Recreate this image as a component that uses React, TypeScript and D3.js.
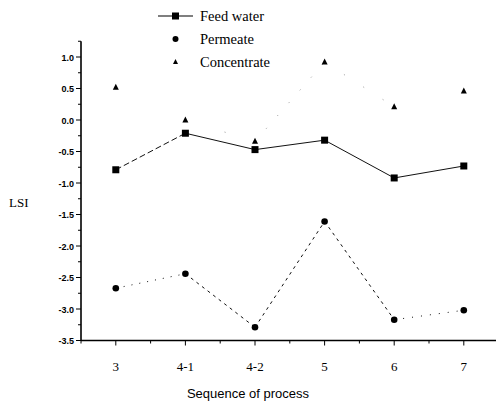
import React from "react";
import * as d3 from "d3";

const categories = ["3", "4-1", "4-2", "5", "6", "7"];
const feedWater = [-0.79, -0.21, -0.47, -0.32, -0.92, -0.73];
const permeate = [-2.67, -2.44, -3.29, -1.61, -3.17, -3.02];
const concentrate = [0.52, 0.0, -0.34, 0.92, 0.21, 0.46];
const yTicks = [1.0, 0.5, 0.0, -0.5, -1.0, -1.5, -2.0, -2.5, -3.0, -3.5];

const W = 496, H = 403;
const axisX = 81, axisY = 340.5;
const SERIF = "'Liberation Serif', 'Times New Roman', serif";
const SANS = "'Liberation Sans', Arial, sans-serif";

export default function App() {
  const step = 69.6;
  const x = d3.scalePoint<string>().domain(categories).range([axisX + step / 2, axisX + step * 5.5]);
  const y = d3.scaleLinear().domain([-3.5, 1.0]).range([axisY, 57]);
  const yTop = y(1.25);
  const line = d3.line<[number, number]>().x((d) => d[0]).y((d) => d[1]);
  const seg = (vals: number[], i: number) =>
    line([
      [x(categories[i])!, y(vals[i])],
      [x(categories[i + 1])!, y(vals[i + 1])],
    ]) || "";
  const segIdx = [0, 1, 2, 3, 4];
  const feedDash = ["6,3", "", "", "", ""];
  const permDash = ["1,7", "3,4", "3,4", "3,4", "1,8"];
  const concDash = ["0,100", "1,40", "1,16", "1,22", "0,100"];
  const minorY = d3.range(-3.5, 1.26, 0.25).filter((v) => Math.abs(v * 2 - Math.round(v * 2)) > 0.01);
  const minorX = d3.range(0, 7).map((i) => axisX + i * step).filter((v) => v < W);
  const tri = (cx: number, cy: number, s: number) =>
    `M${cx},${cy - s * 0.6}L${cx + s / 2},${cy + s * 0.4}L${cx - s / 2},${cy + s * 0.4}Z`;
  return (
    <svg width={W} height={H} style={{ position: "absolute", left: 0, top: 0, background: "#fff" }}>
      <line x1={axisX} x2={axisX} y1={yTop} y2={axisY} stroke="#000" strokeWidth={1.6} />
      <line x1={axisX} x2={W} y1={axisY} y2={axisY} stroke="#000" strokeWidth={1.6} />
      {yTicks.map((t) => (
        <g key={t}>
          <line x1={axisX - 5} x2={axisX} y1={y(t)} y2={y(t)} stroke="#000" strokeWidth={1} />
          <text x={axisX - 7} y={y(t) + 3.5} textAnchor="end" fontFamily={SANS} fontSize={9} fontWeight="bold">
            {t.toFixed(1)}
          </text>
        </g>
      ))}
      {minorY.map((t) => (
        <line key={t} x1={axisX - 3} x2={axisX} y1={y(t)} y2={y(t)} stroke="#000" strokeWidth={1} />
      ))}
      {minorX.map((v) => (
        <line key={v} x1={v} x2={v} y1={axisY} y2={axisY + 3} stroke="#000" strokeWidth={1} />
      ))}
      {categories.map((c) => (
        <g key={c}>
          <line x1={x(c)!} x2={x(c)!} y1={axisY} y2={axisY + 5} stroke="#000" strokeWidth={1} />
          <text x={x(c)!} y={371} textAnchor="middle" fontFamily={SERIF} fontSize={13}>
            {c}
          </text>
        </g>
      ))}
      <text x={248} y={398} textAnchor="middle" fontFamily={SANS} fontSize={13}>
        Sequence of process
      </text>
      <text x={9} y={207} fontFamily={SERIF} fontSize={13}>
        LSI
      </text>
      {segIdx.map((i) => (
        <path key={"c" + i} d={seg(concentrate, i)} fill="none" stroke="#888" strokeWidth={0.9} strokeDasharray={concDash[i]} />
      ))}
      {segIdx.map((i) => (
        <path key={"f" + i} d={seg(feedWater, i)} fill="none" stroke="#111" strokeWidth={1} strokeDasharray={feedDash[i] || undefined} />
      ))}
      {segIdx.map((i) => (
        <path key={"p" + i} d={seg(permeate, i)} fill="none" stroke="#111" strokeWidth={1} strokeDasharray={permDash[i]} />
      ))}
      {categories.map((c, i) => (
        <rect key={"fs" + c} x={x(c)! - 3.5} y={y(feedWater[i]) - 3.5} width={7} height={7} fill="#000" />
      ))}
      {categories.map((c, i) => (
        <circle key={"pc" + c} cx={x(c)!} cy={y(permeate[i])} r={3.3} fill="#000" />
      ))}
      {categories.map((c, i) => (
        <path key={"ct" + c} d={tri(x(c)!, y(concentrate[i]), 6)} fill="#000" />
      ))}
      <line x1={158} x2={193} y1={16} y2={16} stroke="#000" strokeWidth={1.2} />
      <rect x={172} y={12.5} width={7} height={7} fill="#000" />
      <text x={200} y={20.5} fontFamily={SERIF} fontSize={14.5}>Feed water</text>
      <circle cx={175.5} cy={39} r={3} fill="#000" />
      <text x={200} y={43.5} fontFamily={SERIF} fontSize={14.5}>Permeate</text>
      <path d={tri(175.5, 62, 5)} fill="#000" />
      <text x={200} y={66.5} fontFamily={SERIF} fontSize={14.5}>Concentrate</text>
    </svg>
  );
}
